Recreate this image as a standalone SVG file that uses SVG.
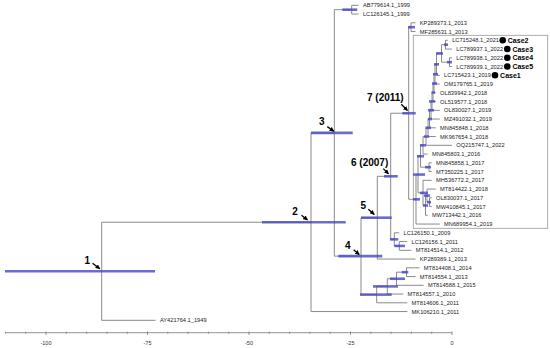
<svg xmlns="http://www.w3.org/2000/svg" width="550" height="348" viewBox="0 0 550 348">
<defs>
<style>
.br{fill:none;stroke:#8a8a8a;stroke-width:1}
.hpd{stroke:#4646c6;stroke-opacity:0.8;stroke-width:2.6;fill:none}
.tip{font-family:"Liberation Sans",Arial,sans-serif;font-size:5.7px;fill:#222}
.case{font-family:"Liberation Sans",Arial,sans-serif;font-size:7px;font-weight:bold;fill:#000}
.nl{font-family:"Liberation Sans",Arial,sans-serif;font-size:10px;font-weight:bold;fill:#000}
.ax{font-family:"Liberation Sans",Arial,sans-serif;font-size:5.5px;fill:#333;text-anchor:middle}
.arr{stroke:#000;stroke-width:1.3;fill:none;marker-end:url(#ah)}
</style>
<marker id="ah" viewBox="0 0 10 10" refX="9" refY="5" markerWidth="3.6" markerHeight="3.6" orient="auto">
<path d="M0,0L10,5L0,10z" fill="#000"/>
</marker>
</defs>
<rect width="550" height="348" fill="#fff"/>
<rect id="box" x="413.3" y="35.3" width="134.4" height="193" fill="none" stroke="#999" stroke-width="0.8"/>
<g id="connectors">
<path class="br" d="M311 222.23H101.7V320.3H155.6"/>
<path class="br" d="M334.3 132.91H311V311.55H407.3"/>
<path class="br" d="M351.7 9.68H334.3V256.14H361"/>
<path class="br" d="M358.6 5.3H351.7V14.05H358.6"/>
<path class="br" d="M377.3 217.68H361V294.6H376.7"/>
<path class="br" d="M390.7 176.3H377.3V259.05H415.5"/>
<path class="br" d="M408.7 113.24H390.7V239.36H394.3"/>
<path class="br" d="M411 27.18H408.7V199.3H416"/>
<path class="br" d="M415.5 22.8H411V31.55H415.5"/>
<path class="br" d="M418 174.56H416V224.05H439.8"/>
<path class="br" d="M420.5 156.24H418V192.88H423"/>
<path class="br" d="M423 145.3H420.5V167.18H429"/>
<path class="br" d="M426 136.54H423V154.05H427.6"/>
<path class="br" d="M428 127.78H426V145.3H452"/>
<path class="br" d="M429.5 119.02H428V136.55H435.8"/>
<path class="br" d="M431 110.23H429.5V127.8H435.8"/>
<path class="br" d="M432 101.41H431V119.05H439.8"/>
<path class="br" d="M433 92.53H432V110.3H439.8"/>
<path class="br" d="M434 83.5H433V101.55H435.8"/>
<path class="br" d="M435 74.2H434V92.8H435.8"/>
<path class="br" d="M436.5 64.36H435V84.05H439.8"/>
<path class="br" d="M441.5 53.43H436.5V75.3H439.8"/>
<path class="br" d="M445.5 44.68H441.5V62.18H449.5"/>
<path class="br" d="M447.9 40.3H445.5V49.05H452"/>
<path class="br" d="M452 57.8H449.5V66.55H452"/>
<path class="br" d="M431.7 162.8H429V171.55H431.7"/>
<path class="br" d="M431.7 180.3H423V205.46H425.5"/>
<path class="br" d="M427 195.61H425.5V215.3H427.6"/>
<path class="br" d="M435.8 189.05H427V202.18H429.5"/>
<path class="br" d="M431.7 197.8H429.5V206.55H431.7"/>
<path class="br" d="M399.2 232.8H394.3V245.93H399.3"/>
<path class="br" d="M407.3 241.55H399.3V250.3H411.4"/>
<path class="br" d="M387.3 286.4H376.7V302.8H407.3"/>
<path class="br" d="M396.5 278.74H387.3V294.05H403.3"/>
<path class="br" d="M406.5 272.18H396.5V285.3H423.6"/>
<path class="br" d="M419.5 267.8H406.5V276.55H415.5"/>
</g>
<g id="hpd-bars" class="hpd">
<path id="n1" d="M5 271.27H155"/>
<path id="n2" d="M262 222.23H345.7"/>
<path id="n3" d="M311 132.91H352.7"/>
<path d="M342.3 9.68H357.3"/>
<path id="n4" d="M338.3 256.14H382.3"/>
<path id="n5" d="M361 217.68H391.7"/>
<path id="n6" d="M384 176.3H397.7"/>
<path id="n7" d="M402.3 113.24H415.7"/>
<path d="M408 27.18H415"/>
<path d="M413 199.3H420"/>
<path d="M413 174.56H425"/>
<path d="M417 156.24H424"/>
<path d="M420 145.3H426"/>
<path d="M424 136.54H429"/>
<path d="M425.5 127.78H431"/>
<path d="M428 119.02H432"/>
<path d="M428 110.23H434"/>
<path d="M429 101.41H435"/>
<path d="M431.5 92.53H435"/>
<path d="M432 83.5H437"/>
<path d="M433 74.2H438"/>
<path d="M434 64.36H439"/>
<path d="M436 53.43H443"/>
<path d="M444 44.68H448"/>
<path d="M447 62.18H452"/>
<path d="M425 167.18H431"/>
<path d="M420 192.88H428"/>
<path d="M423 205.46H428"/>
<path d="M424 195.61H430"/>
<path d="M427 202.18H431"/>
<path d="M390 239.36H398.3"/>
<path d="M394.3 245.93H405"/>
<path d="M401.7 272.18H408.3"/>
<path d="M390 278.74H405"/>
<path d="M373 286.4H398"/>
<path d="M360 294.6H391.7"/>
</g>
<g id="node-labels">
<g id="label1"><text class="nl" x="87.3" y="264.2" text-anchor="middle">1</text><path class="arr" d="M92.5 263.2L99.8 268.8"/></g>
<g id="label2"><text class="nl" x="295" y="215.2" text-anchor="middle">2</text><path class="arr" d="M301.5 215.2L307.5 219.9"/></g>
<g id="label3"><text class="nl" x="321.7" y="125.2" text-anchor="middle">3</text><path class="arr" d="M327.3 126.6L333.8 131.2"/></g>
<g id="label4"><text class="nl" x="347.7" y="248.5" text-anchor="middle">4</text><path class="arr" d="M353.6 249.8L359.3 254.6"/></g>
<g id="label5"><text class="nl" x="363.3" y="208.5" text-anchor="middle">5</text><path class="arr" d="M368.3 209.2L374.3 214.4"/></g>
<g id="label6"><text class="nl" x="351" y="166.2">6 (2007)</text><path class="arr" d="M383.3 168.6L388.5 173.9"/></g>
<g id="label7"><text class="nl" x="367" y="101.3">7 (2011)</text><path class="arr" d="M401.3 104.2L407.5 110.5"/></g>
</g>
<g id="tips" class="tip">
<text x="362.9" y="7.3">AB779614.1_1999</text>
<text x="362.9" y="16.05">LC126145.1_1999</text>
<text x="419.8" y="24.8">KP289373.1_2013</text>
<text x="419.8" y="33.55">MF285631.1_2013</text>
<text x="452.2" y="42.3">LC715248.1_2021</text>
<text x="456.3" y="51.05">LC789937.1_2022</text>
<text x="456.3" y="59.8">LC789938.1_2022</text>
<text x="456.3" y="68.55">LC789939.1_2022</text>
<text x="444.1" y="77.3">LC715423.1_2019</text>
<text x="444.1" y="86.05">OM179765.1_2019</text>
<text x="440.1" y="94.8">OL839942.1_2018</text>
<text x="440.1" y="103.55">OL519577.1_2018</text>
<text x="444.1" y="112.3">OL830027.1_2019</text>
<text x="444.1" y="121.05">MZ491032.1_2019</text>
<text x="440.1" y="129.8">MN845848.1_2018</text>
<text x="440.1" y="138.55">MK967654.1_2018</text>
<text x="456.3" y="147.3">OQ215747.1_2022</text>
<text x="431.9" y="156.05">MN845803.1_2016</text>
<text x="436" y="164.8">MN845858.1_2017</text>
<text x="436" y="173.55">MT350225.1_2017</text>
<text x="436" y="182.3">MH536772.2_2017</text>
<text x="440.1" y="191.05">MT814422.1_2018</text>
<text x="436" y="199.8">OL830037.1_2017</text>
<text x="436" y="208.55">MW410845.1_2017</text>
<text x="431.9" y="217.3">MW713442.1_2016</text>
<text x="444.1" y="226.05">MN689954.1_2019</text>
<text x="403.5" y="234.8">LC126150.1_2009</text>
<text x="411.6" y="243.55">LC126156.1_2011</text>
<text x="415.7" y="252.3">MT814514.1_2012</text>
<text x="419.8" y="261.05">KP289389.1_2013</text>
<text x="423.8" y="269.8">MT814408.1_2014</text>
<text x="419.8" y="278.55">MT814554.1_2013</text>
<text x="427.9" y="287.3">MT814588.1_2015</text>
<text x="407.6" y="296.05">MT814557.1_2010</text>
<text x="411.6" y="304.8">MT814606.1_2011</text>
<text x="411.6" y="313.55">MK106210.1_2011</text>
<text x="159.9" y="322.3">AY421764.1_1949</text>
</g>
<g id="cases">
<g id="case2"><circle cx="502.7" cy="40.3" r="3.3"/><text class="case" x="507.8" y="42.8">Case2</text></g>
<g id="case3"><circle cx="507.3" cy="49.05" r="3.3"/><text class="case" x="512.4" y="51.55">Case3</text></g>
<g id="case4"><circle cx="507.3" cy="57.8" r="3.3"/><text class="case" x="512.4" y="60.3">Case4</text></g>
<g id="case5"><circle cx="507.3" cy="66.55" r="3.3"/><text class="case" x="512.4" y="69.05">Case5</text></g>
<g id="case1"><circle cx="495" cy="75.3" r="3.3"/><text class="case" x="500.1" y="77.8">Case1</text></g>
</g>
<g id="axis">
<path d="M5.4 332.7H452" stroke="#777" stroke-width="0.8" fill="none"/>
<path stroke="#777" stroke-width="0.7" fill="none" d="M5.4 331.7v2.2M25.7 331.7v2.2M66.3 331.7v2.2M86.6 331.7v2.2M106.9 331.7v2.2M127.2 331.7v2.2M167.8 331.7v2.2M188.1 331.7v2.2M208.4 331.7v2.2M228.7 331.7v2.2M269.3 331.7v2.2M289.6 331.7v2.2M309.9 331.7v2.2M330.2 331.7v2.2M370.8 331.7v2.2M391.1 331.7v2.2M411.4 331.7v2.2M431.7 331.7v2.2"/>
<path stroke="#777" stroke-width="0.8" fill="none" d="M46 331.5v3.5M147.5 331.5v3.5M249 331.5v3.5M350.5 331.5v3.5M452 331.5v3.5"/>
<text class="ax" x="46" y="344.7">-100</text>
<text class="ax" x="147.5" y="344.7">-75</text>
<text class="ax" x="249" y="344.7">-50</text>
<text class="ax" x="350.5" y="344.7">-25</text>
<text class="ax" x="452" y="344.7">0</text>
</g>
</svg>
